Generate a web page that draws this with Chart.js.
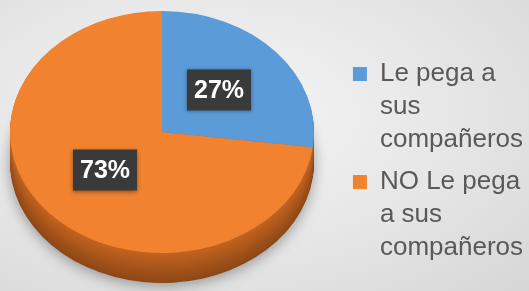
<!DOCTYPE html>
<html>
<head>
<meta charset="utf-8">
<script src="https://cdn.jsdelivr.net/npm/chart.js@4.4.0/dist/chart.umd.min.js"></script>
<style>
	html, body { margin: 0; padding: 0; width: 529px; height: 291px; overflow: hidden; }
	body { background: radial-gradient(ellipse at 40% 40%, #f6f6f6 0%, #e6e6e6 55%, #d6d6d6 100%); }
	#pie-canvas { display: block; }
</style>
</head>
<body>
<canvas id="pie-canvas" width="529" height="291"></canvas>
<script>
// data
var categories = [['Le pega a', 'sus', 'compañeros'], ['NO Le pega', 'a sus', 'compañeros']];
var percentages = [27, 73];
var colours = ['#5b9bd7', '#f08230'];
var sideColours = [[70, 120, 170], [196, 100, 32]];

// 3d look: the round pie from chart.js is squashed into an ellipse and given a side
var tilt = {
	id: 'tilt',
	beforeDatasetsDraw: function(chart, args, opts) {
		var ctx = chart.ctx;
		var arcs = chart.getDatasetMeta(0).data;
		var c = arcs[0];
		var sx = opts.rx / c.outerRadius, sy = opts.ry / c.outerRadius;
		ctx.save();
		// side, deepest layer first
		for (var d = opts.depth; d >= 1; d--) {
			ctx.save();
			if (d == opts.depth) {
				ctx.shadowColor = 'rgba(0,0,0,0.35)';
				ctx.shadowBlur = 14;
				ctx.shadowOffsetY = 3;
			}
			ctx.translate(opts.cx, opts.cy + d);
			ctx.scale(sx, sy);
			ctx.translate(-c.x, -c.y);
			arcs.forEach(function(a, i) {
				var k = 1 - 0.28 * d / opts.depth;
				var s = sideColours[i];
				ctx.fillStyle = 'rgb(' + Math.round(s[0] * k) + ',' + Math.round(s[1] * k) + ',' + Math.round(s[2] * k) + ')';
				ctx.beginPath();
				ctx.moveTo(a.x, a.y);
				ctx.arc(a.x, a.y, a.outerRadius, a.startAngle, a.endAngle);
				ctx.closePath();
				ctx.fill();
			});
			ctx.restore();
		}
		ctx.translate(opts.cx, opts.cy);
		ctx.scale(sx, sy);
		ctx.translate(-c.x, -c.y);
	},
	afterDatasetsDraw: function(chart, args, opts) {
		var ctx = chart.ctx;
		ctx.restore();
		var arcs = chart.getDatasetMeta(0).data;
		var c = arcs[0];
		var sx = opts.rx / c.outerRadius, sy = opts.ry / c.outerRadius;
		ctx.save();
		ctx.font = 'bold 25px "Liberation Sans", Arial, sans-serif';
		ctx.textAlign = 'center';
		ctx.textBaseline = 'middle';
		arcs.forEach(function(a, i) {
			var m = (a.startAngle + a.endAngle) / 2;
			var px = opts.cx + Math.cos(m) * a.outerRadius * 0.5 * sx;
			var py = opts.cy + Math.sin(m) * a.outerRadius * 0.5 * sy - 2;
			var txt = percentages[i] + '%';
			var w = ctx.measureText(txt).width + 14, h = 41;
			ctx.save();
			ctx.shadowColor = 'rgba(0,0,0,0.4)';
			ctx.shadowBlur = 4;
			ctx.shadowOffsetY = 1;
			ctx.fillStyle = '#3a3a3a';
			ctx.fillRect(px - w / 2, py - h / 2, w, h);
			ctx.restore();
			ctx.fillStyle = '#ffffff';
			ctx.fillText(txt, px, py + 1);
		});
		ctx.restore();
	}
};

var canvas = document.querySelector('#pie-canvas');

new Chart(canvas, {
	type: 'pie',
	data: {
		labels: categories,
		datasets: [{
			data: percentages,
			backgroundColor: colours,
			borderWidth: 0
		}]
	},
	options: {
		responsive: false,
		animation: false,
		layout: { padding: { top: 52, right: -4, bottom: 10, left: 0 } },
		plugins: {
			tooltip: { enabled: false },
			legend: {
				position: 'right',
				align: 'start',
				labels: {
					boxWidth: 14,
					boxHeight: 14,
					padding: 9,
					color: '#595959',
					font: { family: '"Liberation Sans", Arial, sans-serif', size: 26, lineHeight: 1.27 }
				}
			},
			tilt: { cx: 162, cy: 132, rx: 152, ry: 121, depth: 30 }
		}
	},
	plugins: [tilt]
});
</script>
</body>
</html>
